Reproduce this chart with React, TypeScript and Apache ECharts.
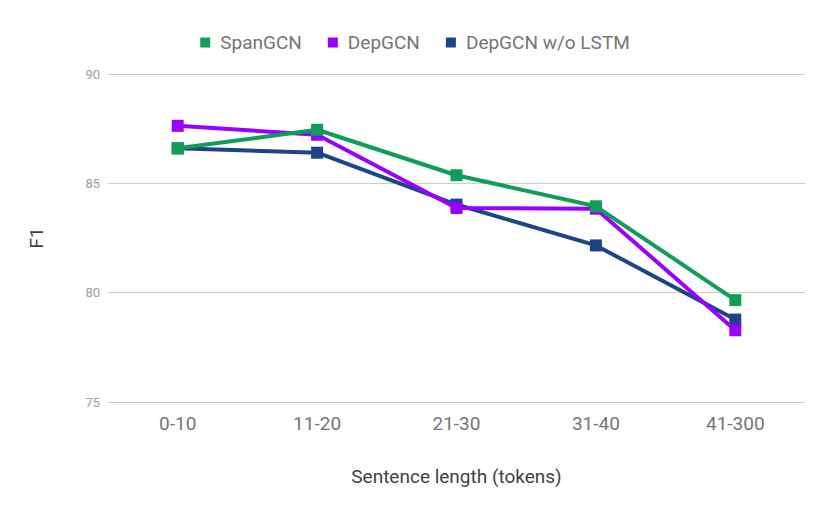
import React, { useEffect, useRef } from "react";
import * as echarts from "echarts";

const categories = ["0-10", "11-20", "21-30", "31-40", "41-300"];
const spanGCN = [86.6, 87.45, 85.37, 83.95, 79.66];
const depGCN = [87.63, 87.22, 83.87, 83.84, 78.28];
const depGCNNoLSTM = [86.6, 86.4, 84.03, 82.16, 78.77];
const seriesNames = ["SpanGCN", "DepGCN", "DepGCN w/o LSTM"];
const colors = ["#0f9d58", "#9900ff", "#1c4587"];

export default function App() {
  const ref = useRef<HTMLDivElement>(null);
  useEffect(() => {
    if (!ref.current) return;
    const chart = echarts.init(ref.current, null, { renderer: "svg" });
    const data = [spanGCN, depGCN, depGCNNoLSTM];
    chart.setOption({
      animation: false,
      backgroundColor: "#ffffff",
      textStyle: { fontFamily: "Roboto" },
      legend: {
        top: 28,
        left: "center",
        icon: "rect",
        itemWidth: 10,
        itemHeight: 10,
        itemGap: 26,
        itemStyle: { borderWidth: 0 },
        textStyle: { color: "#757575", fontSize: 19, fontFamily: "Roboto", padding: [0, 0, 0, 5] },
        data: seriesNames,
      },
      grid: { left: 108, right: 25, top: 74, bottom: 112 },
      xAxis: {
        type: "category",
        data: categories,
        boundaryGap: true,
        axisLine: { show: false },
        axisTick: { show: false },
        axisLabel: { color: "#757575", fontSize: 19, margin: 12, fontFamily: "Roboto" },
        name: "Sentence length (tokens)",
        nameLocation: "middle",
        nameGap: 65,
        nameTextStyle: { color: "#424242", fontSize: 19, fontFamily: "Roboto" },
      },
      yAxis: {
        type: "value",
        min: 75,
        max: 90,
        interval: 5,
        axisLine: { show: false },
        axisTick: { show: false },
        splitLine: { lineStyle: { color: "#cccccc", width: 1 } },
        axisLabel: { color: "#9e9e9e", fontSize: 13, margin: 8, fontFamily: "Roboto" },
        name: "F1",
        nameLocation: "middle",
        nameGap: 62,
        nameTextStyle: { color: "#424242", fontSize: 19, fontFamily: "Roboto" },
      },
      series: seriesNames.map((name, i) => ({
        name,
        type: "line",
        data: data[i],
        symbol: "rect",
        symbolSize: 12,
        lineStyle: { color: colors[i], width: 4 },
        itemStyle: { color: colors[i] },
        z: 3 - i,
      })),
    });
    return () => chart.dispose();
  }, []);
  return (
    <div
      ref={ref}
      style={{ position: "fixed", left: 0, top: 0, width: 830, height: 514 }}
    />
  );
}
